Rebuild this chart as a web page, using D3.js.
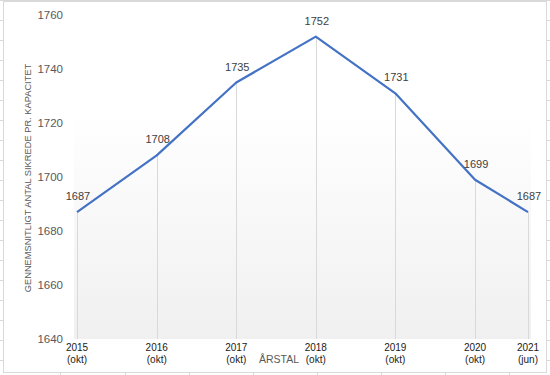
<!DOCTYPE html>
<html>
<head>
<meta charset="utf-8">
<script src="https://cdn.jsdelivr.net/npm/d3@7"></script>
<style>
  body { margin: 0; background: #fff; }
  svg { display: block; font-family: "Liberation Sans", Arial, sans-serif; }
</style>
</head>
<body>
<div id="chart"></div>
<script>
// data
const dates = ["2015-10", "2016-10", "2017-10", "2018-10", "2019-10", "2020-10", "2021-06"];
const years = ["2015", "2016", "2017", "2018", "2019", "2020", "2021"];
const months = ["(okt)", "(okt)", "(okt)", "(okt)", "(okt)", "(okt)", "(jun)"];
const values = [1687, 1708, 1735, 1752, 1731, 1699, 1687];
const yTicks = [1640, 1660, 1680, 1700, 1720, 1740, 1760];

const width = 550;
const height = 375;
const parse = d3.timeParse("%Y-%m");

const svg = d3.select("#chart")
  .append("svg")
  .attr("width", width)
  .attr("height", height);

//Spreadsheet behind the chart
svg.append("g")
  .selectAll("line")
  .data(d3.range(0, height, 20))
  .join("line")
  .attr("x1", 0).attr("x2", width)
  .attr("y1", d => d + 0.5).attr("y2", d => d + 0.5)
  .attr("stroke", "#d9d9d9");
svg.append("g")
  .selectAll("line")
  .data([60, 125, 189, 253, 317, 381, 445, 509])
  .join("line")
  .attr("x1", d => d + 0.5).attr("x2", d => d + 0.5)
  .attr("y1", 0).attr("y2", height)
  .attr("stroke", "#d9d9d9");

//Chart area
svg.append("rect")
  .attr("x", 3.5).attr("y", 1.5)
  .attr("width", 543).attr("height", 371)
  .attr("fill", "#fff")
  .attr("stroke", "#d9d9d9");

const x = d3.scaleTime()
  .domain(d3.extent(dates, parse))
  .range([77, 528]);

const y = d3.scaleLinear()
  .domain([1640, 1760])
  .range([339, 15]);

//Plot area gradient
const grad = svg.append("defs")
  .append("linearGradient")
  .attr("id", "plot-gradient")
  .attr("x1", "0%").attr("y1", "0%")
  .attr("x2", "0%").attr("y2", "100%");
grad.append("stop").attr("offset", "0%").attr("stop-color", "#ffffff");
grad.append("stop").attr("offset", "30%").attr("stop-color", "#ffffff");
grad.append("stop").attr("offset", "100%").attr("stop-color", "#f0f0f0");

svg.append("rect")
  .attr("x", 74).attr("y", 15)
  .attr("width", 457).attr("height", 324)
  .attr("fill", "url(#plot-gradient)");

const points = dates.map((d, i) => ({ date: parse(d), value: values[i], year: years[i], month: months[i] }));

//Drop lines
svg.append("g")
  .selectAll("line")
  .data(points)
  .join("line")
  .attr("x1", d => Math.round(x(d.date)) + 0.5)
  .attr("x2", d => Math.round(x(d.date)) + 0.5)
  .attr("y1", d => y(d.value))
  .attr("y2", y(1640))
  .attr("stroke", "#d9d9d9");

//Line
svg.append("path")
  .datum(points)
  .attr("fill", "none")
  .attr("stroke", "#4472c4")
  .attr("stroke-width", 2.2)
  .attr("stroke-linejoin", "round")
  .attr("d", d3.line().x(d => x(d.date)).y(d => y(d.value)));

//Data labels
svg.append("g")
  .selectAll("text")
  .data(points)
  .join("text")
  .attr("x", d => x(d.date) + 1)
  .attr("y", d => y(d.value) - 12)
  .attr("text-anchor", "middle")
  .attr("font-size", 11)
  .attr("fill", "#404040")
  .text(d => d.value);

//Y axis
const yAxis = svg.append("g")
  .attr("transform", "translate(63,0)")
  .call(d3.axisLeft(y).tickValues(yTicks).tickSize(0).tickPadding(0).tickFormat(d3.format("d")));
yAxis.select(".domain").remove();
yAxis.selectAll("text")
  .attr("font-size", 11.5)
  .attr("fill", "#595959")
  .attr("font-family", "Liberation Sans, Arial, sans-serif");

//X axis labels (two lines)
const xl = svg.append("g")
  .selectAll("text")
  .data(points)
  .join("text")
  .attr("text-anchor", "middle")
  .attr("font-size", 10)
  .attr("fill", "#1a1a1a");
xl.append("tspan")
  .attr("x", d => x(d.date))
  .attr("y", 351)
  .text(d => d.year);
xl.append("tspan")
  .attr("x", d => x(d.date))
  .attr("y", 363)
  .text(d => d.month);

//Axis titles
svg.append("text")
  .attr("transform", "translate(31,178) rotate(-90)")
  .attr("text-anchor", "middle")
  .attr("font-size", 9.3)
  .attr("fill", "#595959")
  .text("GENNEMSNITLIGT ANTAL SIKREDE PR. KAPACITET");

svg.append("text")
  .attr("x", 279)
  .attr("y", 363)
  .attr("text-anchor", "middle")
  .attr("font-size", 10.5)
  .attr("fill", "#595959")
  .text("ÅRSTAL");
</script>
</body>
</html>
